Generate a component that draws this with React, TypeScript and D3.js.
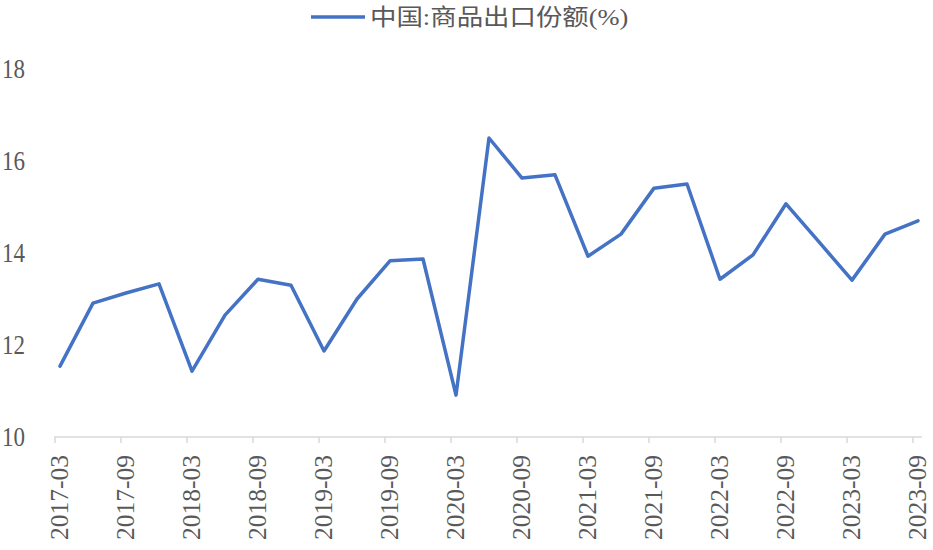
import React, { useRef, useEffect } from 'react';
import * as d3 from 'd3';

const quarters = [
  '2017-03', '2017-06', '2017-09', '2017-12',
  '2018-03', '2018-06', '2018-09', '2018-12',
  '2019-03', '2019-06', '2019-09', '2019-12',
  '2020-03', '2020-06', '2020-09', '2020-12',
  '2021-03', '2021-06', '2021-09', '2021-12',
  '2022-03', '2022-06', '2022-09', '2022-12',
  '2023-03', '2023-06', '2023-09',
];

const exportShare = [
  11.54, 12.91, 13.13, 13.33,
  11.43, 12.65, 13.43, 13.30,
  11.87, 13.0, 13.83, 13.87,
  10.91, 16.5, 15.63, 15.7,
  13.93, 14.41, 15.41, 15.5,
  13.43, 13.96, 15.07, 14.24,
  13.41, 14.41, 14.7,
];

const yTicks = [10, 12, 14, 16, 18];
const seriesName = '中国:商品出口份额(%)';

const W = 933;
const H = 550;
const FONT = '"Liberation Serif", "Times New Roman", "Noto Sans CJK SC", serif';

export default function App() {
  const svgRef = useRef<SVGSVGElement>(null);

  useEffect(() => {
    if (!svgRef.current) return;
    const svg = d3.select(svgRef.current);
    svg.selectAll('*').remove();

    // Scales
    const idx = quarters.map((_, i) => i);
    const xScale = d3.scaleLinear().domain([0, quarters.length - 1]).range([60, 918]);
    const tickOffset = -5;
    const yScale = d3.scaleLinear().domain([10, 18]).range([437, 69]);

    // Y labels (no axis line)
    svg.append('g')
      .selectAll('text')
      .data(yTicks)
      .join('text')
      .attr('transform', d => `translate(25,${yScale(d)}) scale(0.92,1.08)`)
      .attr('text-anchor', 'end')
      .attr('dominant-baseline', 'central')
      .attr('font-family', FONT)
      .attr('font-size', 25)
      .attr('fill', '#595959')
      .text(d => d);

    // X axis line
    svg.append('line')
      .attr('x1', xScale(0) + tickOffset - 1)
      .attr('x2', 922)
      .attr('y1', yScale(10))
      .attr('y2', yScale(10))
      .attr('stroke', '#d9d9d9')
      .attr('stroke-width', 1.5);

    const labelIdx = idx.filter(i => i % 2 === 0);

    svg.append('g')
      .selectAll('line')
      .data(labelIdx)
      .join('line')
      .attr('x1', i => xScale(i) + tickOffset)
      .attr('x2', i => xScale(i) + tickOffset)
      .attr('y1', yScale(10))
      .attr('y2', yScale(10) + 6)
      .attr('stroke', '#d9d9d9')
      .attr('stroke-width', 1.5);

    svg.append('g')
      .selectAll('text')
      .data(labelIdx)
      .join('text')
      .attr('transform', i => `translate(${xScale(i) + tickOffset + 4},455) rotate(-90)`)
      .attr('text-anchor', 'end')
      .attr('dominant-baseline', 'central')
      .attr('font-family', FONT)
      .attr('font-size', 25.5)
      .attr('fill', '#595959')
      .text(i => quarters[i]);

    // Series line
    const line = d3.line<number>()
      .x((_, i) => xScale(i))
      .y(d => yScale(d));

    svg.append('path')
      .datum(exportShare)
      .attr('fill', 'none')
      .attr('stroke', '#4472C4')
      .attr('stroke-width', 3.5)
      .attr('stroke-linejoin', 'round')
      .attr('stroke-linecap', 'round')
      .attr('d', line);

    // Legend
    const lg = svg.append('g');
    lg.append('line')
      .attr('x1', 311)
      .attr('x2', 365)
      .attr('y1', 17)
      .attr('y2', 17)
      .attr('stroke', '#4472C4')
      .attr('stroke-width', 3.5);
    lg.append('text')
      .attr('transform', 'translate(370,17) scale(1.15,1)')
      .attr('dominant-baseline', 'central')
      .attr('font-family', FONT)
      .attr('font-size', 23)
      .attr('fill', '#595959')
      .text(seriesName);
  }, []);

  return (
    <div style={{ position: 'absolute', left: 0, top: 0, width: W, height: H, background: '#fff' }}>
      <svg ref={svgRef} width={W} height={H} style={{ display: 'block' }} />
    </div>
  );
}
